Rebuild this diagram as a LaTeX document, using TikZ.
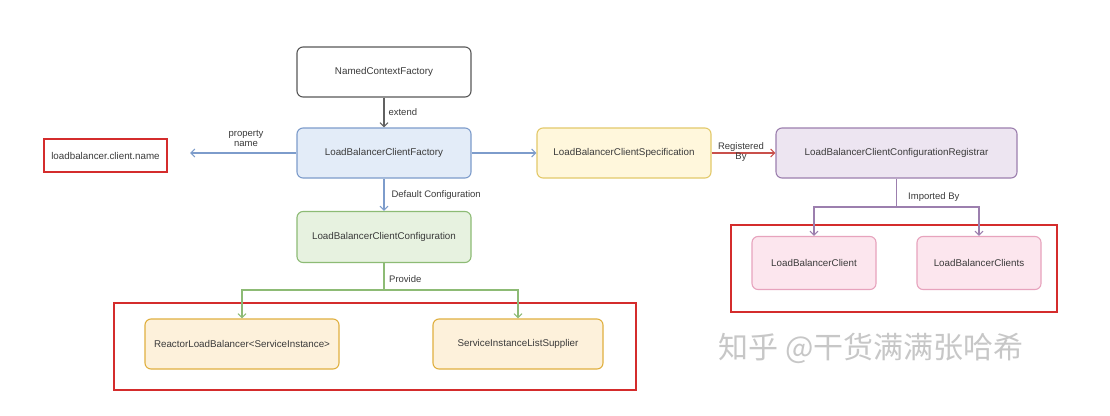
\documentclass[tikz,border=0pt]{standalone}
\usepackage{fontspec}
\setmainfont{Liberation Sans}
\newfontfamily\cjk{Noto Sans CJK SC}
\usetikzlibrary{arrows.meta,positioning}
\definecolor{bluS}{HTML}{7D9CCB}\definecolor{bluF}{HTML}{E3ECF8}
\definecolor{yelS}{HTML}{E3C96A}\definecolor{yelF}{HTML}{FFF7DC}
\definecolor{purS}{HTML}{9C7FAE}\definecolor{purF}{HTML}{EDE5F1}
\definecolor{grnS}{HTML}{8DBB75}\definecolor{grnF}{HTML}{E7F2E0}
\definecolor{pnkS}{HTML}{E7A3BD}\definecolor{pnkF}{HTML}{FCE6EE}
\definecolor{orgS}{HTML}{E0B040}\definecolor{orgF}{HTML}{FDF1DB}
\definecolor{redB}{HTML}{D42C2C}\definecolor{redA}{HTML}{C9504B}
\definecolor{txt}{HTML}{3A3A3A}
\tikzset{
  box/.style={rounded corners=6pt, line width=1.1pt, inner sep=0pt, font=\fontsize{9.8}{11}\selectfont, text=txt},
  lbl/.style={font=\fontsize{9.5}{10.5}\selectfont, text=txt, inner sep=1pt},
  conn/.style={line width=1.1pt, -{Straight Barb[length=4pt,width=8pt,line width=1.1pt]}},
  redbox/.style={draw=redB, line width=1.3pt},
}
\begin{document}
\begin{tikzpicture}[x=1pt,y=-1pt]
\useasboundingbox (0,0) rectangle (1110,415);
\fill[white] (0,0) rectangle (1110,415);
% red frames
\node[redbox, minimum width=522pt, minimum height=87pt] (frameL) at (375,346.5) {};
\node[redbox, minimum width=326pt, minimum height=87pt] (frameR) at (894,268.5) {};
% nodes
\node[box, draw=txt!85, fill=white, minimum width=174pt, minimum height=50pt] (ncf) at (384,72) {NamedContextFactory};
\node[box, draw=bluS, fill=bluF, minimum width=174pt, minimum height=50pt] (lbcf) at (384,153) {LoadBalancerClientFactory};
\node[redbox, minimum width=123pt, minimum height=33pt, font=\fontsize{9.8}{11}\selectfont, text=txt] (prop) at (105.5,155.5) {loadbalancer.client.name};
\node[box, draw=yelS, fill=yelF, minimum width=174pt, minimum height=50pt] (spec) at (624,153) {LoadBalancerClientSpecification};
\node[box, draw=purS, fill=purF, minimum width=241pt, minimum height=50pt] (reg) at (896.5,153) {LoadBalancerClientConfigurationRegistrar};
\node[box, draw=pnkS, fill=pnkF, minimum width=124pt, minimum height=53pt] (lbc) at (814,263) {LoadBalancerClient};
\node[box, draw=pnkS, fill=pnkF, minimum width=124pt, minimum height=53pt] (lbcs) at (979,263) {LoadBalancerClients};
\node[box, draw=grnS, fill=grnF, minimum width=174pt, minimum height=51pt] (conf) at (384,237) {LoadBalancerClientConfiguration};
\node[box, draw=orgS, fill=orgF, minimum width=194pt, minimum height=50pt] (rlb) at (242,344) {ReactorLoadBalancer<ServiceInstance>};
\node[box, draw=orgS, fill=orgF, minimum width=170pt, minimum height=50pt] (sils) at (518,344) {ServiceInstanceListSupplier};
% connectors
\draw[conn, draw=txt!80] (ncf) -- (lbcf) node[lbl, midway, right=3pt] {extend};
\coordinate (pend) at (190,153);
\draw[conn, draw=bluS] (lbcf.west) -- (pend);
\node[lbl, align=center, font=\fontsize{9.5}{10}\selectfont] (propname) at (246,138) {property\\name};
\draw[conn, draw=bluS] (lbcf.east) -- (spec.west);
\draw[conn, draw=redA] (spec.east) -- (reg.west);
\node[lbl, align=center, font=\fontsize{9.5}{10}\selectfont] (regby) at (741,152) {Registered\\By};
\draw[conn, draw=bluS] (lbcf) -- (conf) node[lbl, midway, right=6pt] {Default Configuration};
% imported by
\coordinate (jR) at (896.5,207);
\draw[line width=1.1pt, draw=purS] (reg.south) -- (jR);
\draw[conn, draw=purS] (jR) -| (lbc.north);
\draw[conn, draw=purS] (jR) -| (lbcs.north);
\node[lbl, anchor=west] (impby) at (907,197) {Imported By};
% provide
\coordinate (jL) at (384,290);
\draw[line width=1.1pt, draw=grnS] (conf.south) -- (jL);
\draw[conn, draw=grnS] (jL) -| (rlb.north);
\draw[conn, draw=grnS] (jL) -| (sils.north);
\node[lbl, anchor=west] (prov) at (388,279) {Provide};
% watermark
\node[font=\cjk\fontsize{30}{32}\selectfont, text=black!22] (wm) at (871,348) {知乎 @干货满满张哈希};
\end{tikzpicture}
\end{document}
